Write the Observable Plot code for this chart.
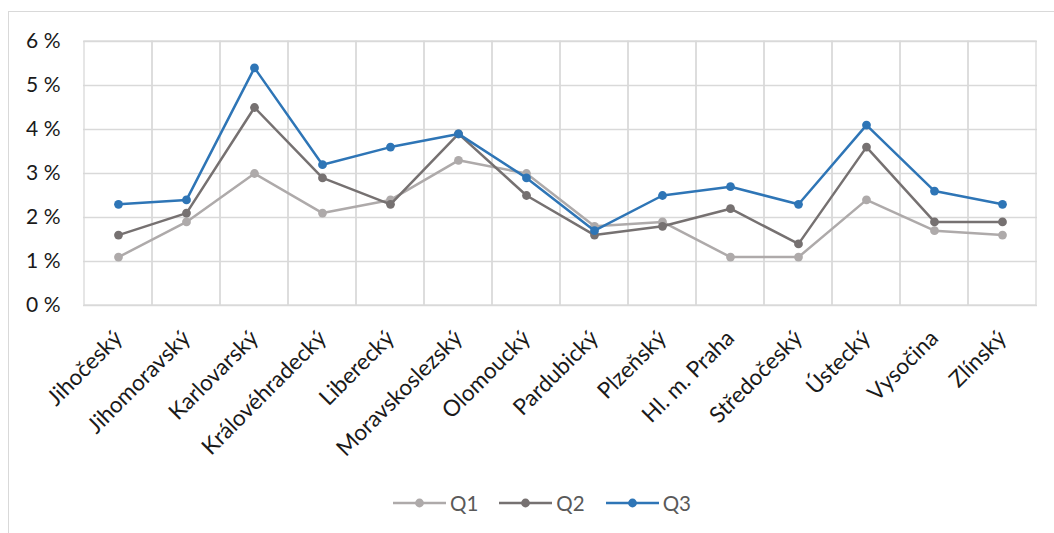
<!DOCTYPE html>
<html>
<head>
<meta charset="utf-8">
<script src="https://cdn.jsdelivr.net/npm/d3@7"></script>
<script src="https://cdn.jsdelivr.net/npm/@observablehq/plot@0.6"></script>
<style>
  body { margin: 0; background: #fff; font-family: Lato, "Open Sans", sans-serif; }
  #frame { position: absolute; left: 8px; top: 11px; width: 1200px; height: 700px; border: 1px solid #d9d9d9; box-sizing: border-box; }
  #chart { position: absolute; left: 0; top: 0; }
  #legend { position: absolute; top: 490px; left: 393px; height: 26px; display: flex; align-items: center; font-size: 20.5px; color: #595959; }
  .item { display: flex; align-items: center; margin-right: 21px; }
  .item svg { margin-right: 4px; }
</style>
</head>
<body>
<div id="frame"></div>
<div id="chart"></div>
<div id="legend"></div>
<script>
const categories = ["Jihočeský","Jihomoravský","Karlovarský","Královéhradecký","Liberecký","Moravskoslezský","Olomoucký","Pardubický","Plzeňský","Hl. m. Praha","Středočeský","Ústecký","Vysočina","Zlínský"];
const q1 = [1.1, 1.9, 3.0, 2.1, 2.4, 3.3, 3.0, 1.8, 1.9, 1.1, 1.1, 2.4, 1.7, 1.6];
const q2 = [1.6, 2.1, 4.5, 2.9, 2.3, 3.9, 2.5, 1.6, 1.8, 2.2, 1.4, 3.6, 1.9, 1.9];
const q3 = [2.3, 2.4, 5.4, 3.2, 3.6, 3.9, 2.9, 1.7, 2.5, 2.7, 2.3, 4.1, 2.6, 2.3];
const seriesNames = ["Q1", "Q2", "Q3"];
const seriesColors = ["#aeaaaa", "#767171", "#2e75b6"];
const yTicks = [0, 1, 2, 3, 4, 5, 6];

const seriesValues = [q1, q2, q3];
const rows = seriesNames.flatMap((s, si) => categories.map((c, i) => ({series: s, region: c, value: seriesValues[si][i]})));

const marks = [
  Plot.ruleY(yTicks, {stroke: "#d9d9d9", strokeWidth: 1.3}),
  Plot.cell(categories, {x: d => d, fill: "none", stroke: "#d9d9d9", strokeWidth: 1.3}),
  Plot.axisY({ticks: yTicks, tickFormat: d => d + " %", tickSize: 0, tickPadding: 23, fontSize: 21, fill: "#1a1a1a"}),
  Plot.axisX({tickRotate: -45, tickSize: 0, tickPadding: 29, fontSize: 22.5, fill: "#1a1a1a", label: null})
];
seriesNames.forEach((s, si) => {
  const data = rows.filter(r => r.series === s);
  marks.push(Plot.line(data, {x: "region", y: "value", stroke: seriesColors[si], strokeWidth: 2.5}));
  marks.push(Plot.dot(data, {x: "region", y: "value", fill: seriesColors[si], r: 4.4}));
});

const chart = Plot.plot({
  width: 1054,
  height: 470,
  marginLeft: 83,
  marginRight: 17,
  marginTop: 41,
  marginBottom: 165,
  style: {fontFamily: "Lato, 'Open Sans', sans-serif", background: "transparent"},
  x: {type: "band", domain: categories, padding: 0, label: null, axis: null},
  y: {domain: [0, 6], label: null, axis: null},
  marks
});
document.getElementById("chart").appendChild(chart);

const legend = document.getElementById("legend");
seriesNames.forEach((s, si) => {
  const item = document.createElement("div");
  item.className = "item";
  item.innerHTML = `<svg width="53" height="12"><line x1="0" x2="53" y1="6" y2="6" stroke="${seriesColors[si]}" stroke-width="2.5"/><circle cx="26.5" cy="6" r="4.4" fill="${seriesColors[si]}"/></svg><span>${s}</span>`;
  legend.appendChild(item);
});
</script>
</body>
</html>
